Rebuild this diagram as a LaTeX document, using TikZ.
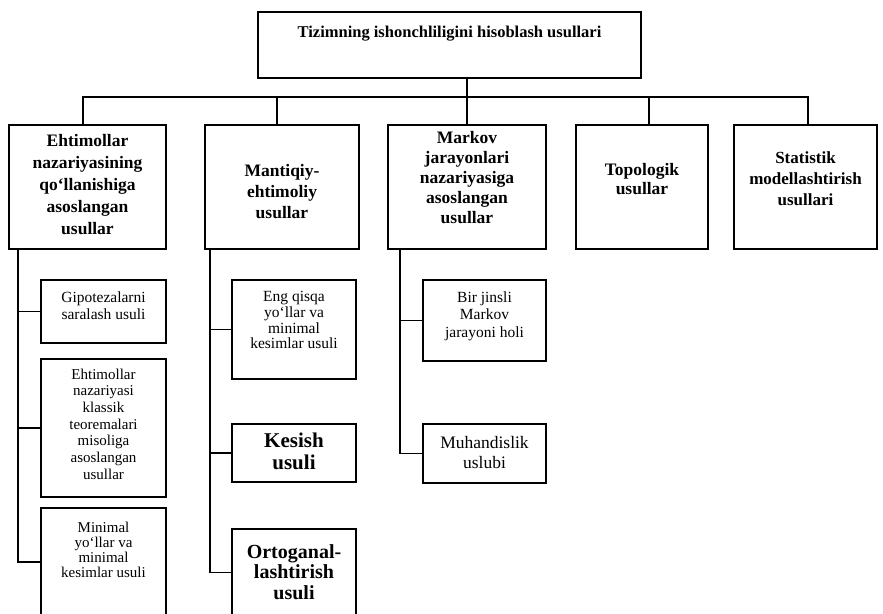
\documentclass[tikz,border=0pt]{standalone}
\usepackage{fontspec}
\setmainfont{Liberation Serif}
\begin{document}
\begin{tikzpicture}[x=1pt,y=-1pt,
  box/.style={draw, line width=1.2pt, rectangle, inner sep=0pt},
  lbl/.style={inner sep=0pt, align=center, anchor=north},
  conn/.style={line width=1.2pt},
  fa/.style={font=\bfseries\fontsize{17.5}{22}\selectfont},
  fsub/.style={font=\fontsize{15.5}{17.5}\selectfont}]
\useasboundingbox (0,0) rectangle (883,613);

% root
\node[box, minimum width=383pt, minimum height=66pt,
  label={[lbl, yshift=-14pt, font=\bfseries\fontsize{16.5}{20}\selectfont]north:Tizimning ishonchliligini hisoblash usullari}]
  (root) at (449.5,45) {};

% first level
\node[box, minimum width=157pt, minimum height=124pt,
  label={[lbl, fa, yshift=-10pt]north:{Ehtimollar\\nazariyasining\\qo‘llanishiga\\asoslangan\\usullar}}]
  (m1) at (87.5,187) {};
\node[box, minimum width=154pt, minimum height=124pt,
  label={[lbl, yshift=-40pt, font=\bfseries\fontsize{17.5}{21}\selectfont]north:{Mantiqiy-\\ehtimoliy\\usullar}}]
  (m2) at (282,187) {};
\node[box, minimum width=158pt, minimum height=124pt,
  label={[lbl, yshift=-7pt, font=\bfseries\fontsize{17.5}{20}\selectfont]north:{Markov\\jarayonlari\\nazariyasiga\\asoslangan\\usullar}}]
  (m3) at (467,187) {};
\node[box, minimum width=132pt, minimum height=124pt,
  label={[lbl, yshift=-39pt, font=\bfseries\fontsize{17.5}{19}\selectfont]north:{Topologik\\usullar}}]
  (m4) at (642,187) {};
\node[box, minimum width=143pt, minimum height=124pt,
  label={[lbl, yshift=-27pt, font=\bfseries\fontsize{17}{21}\selectfont]north:{Statistik\\modellashtirish\\usullari}}]
  (m5) at (805.5,187) {};

% second level, first column
\node[box, minimum width=125pt, minimum height=63pt,
  label={[lbl, fsub, yshift=-12pt]north:{Gipotezalarni\\saralash usuli}}]
  (a1) at (103.5,311.5) {};
\node[box, minimum width=125pt, minimum height=138pt,
  label={[lbl, yshift=-10pt, font=\fontsize{15}{16.7}\selectfont]north:{Ehtimollar\\nazariyasi\\klassik\\teoremalari\\misoliga\\asoslangan\\usullar}}]
  (a2) at (103.5,428) {};
\node[box, minimum width=125pt, minimum height=108pt,
  label={[lbl, yshift=-14pt, font=\fontsize{15}{15.3}\selectfont]north:{Minimal\\yo‘llar va\\minimal\\kesimlar usuli}}]
  (a3) at (103.5,562) {};

% second level, second column
\node[box, minimum width=124pt, minimum height=99pt,
  label={[lbl, yshift=-12pt, font=\fontsize{15.5}{15.6}\selectfont]north:{Eng qisqa\\yo‘llar va\\minimal\\kesimlar usuli}}]
  (b1) at (294,329.5) {};
\node[box, minimum width=124pt, minimum height=58pt,
  label={[lbl, yshift=-9pt, font=\bfseries\fontsize{21}{22}\selectfont]north:{Kesish\\usuli}}]
  (b2) at (294,453) {};
\node[box, minimum width=124pt, minimum height=87pt,
  label={[lbl, yshift=-16pt, font=\bfseries\fontsize{20}{20.5}\selectfont]north:{Ortoganal-\\lashtirish\\usuli}}]
  (b3) at (294,572.5) {};

% second level, third column
\node[box, minimum width=123pt, minimum height=81pt,
  label={[lbl, fsub, yshift=-12pt]north:{Bir jinsli\\Markov\\jarayoni holi}}]
  (c1) at (484.5,320.5) {};
\node[box, minimum width=123pt, minimum height=59pt,
  label={[lbl, yshift=-13pt, font=\fontsize{17.5}{20}\selectfont]north:{Muhandislik\\uslubi}}]
  (c2) at (484.5,453.5) {};

% bus below the root
\coordinate (bus) at (467,97);
\draw[conn] (bus |- root.south) -- (bus);
\draw[conn] ([xshift=-4.5pt]m1.north) |- (bus) -| ([xshift=2.5pt]m5.north);
\draw[conn] ([xshift=-5pt]m2.north) -- ([xshift=-5pt]m2.north |- bus);
\draw[conn] (m3.north) -- (m3.north |- bus);
\draw[conn] ([xshift=7pt]m4.north) -- ([xshift=7pt]m4.north |- bus);

% trunks of the sub-methods
\coordinate (t1) at (18,249);
\coordinate (t2) at (210,249);
\coordinate (t3) at (400,249);
\draw[conn] (t1) |- (a3.west);
\draw[conn] (t1 |- a1.west) -- (a1.west);
\draw[conn] (t1 |- a2.west) -- (a2.west);
\draw[conn] (t2) |- (b3.west);
\draw[conn] (t2 |- b1.west) -- (b1.west);
\draw[conn] (t2 |- b2.west) -- (b2.west);
\draw[conn] (t3) |- (c2.west);
\draw[conn] (t3 |- c1.west) -- (c1.west);
\end{tikzpicture}
\end{document}
